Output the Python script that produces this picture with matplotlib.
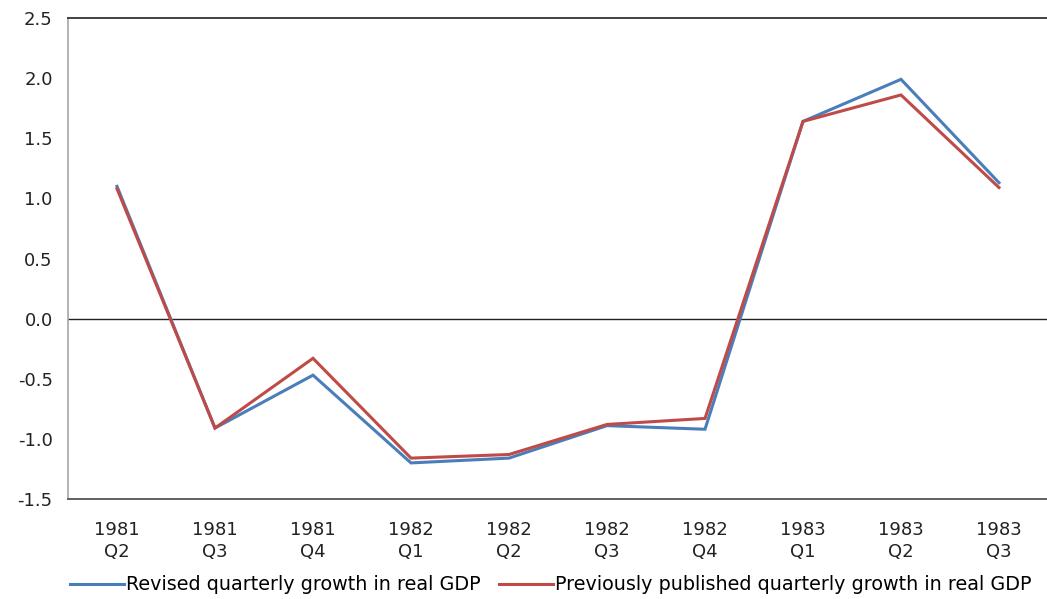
import matplotlib
matplotlib.use("Agg")
from matplotlib import pyplot as plt

quarters = ["1981\nQ2", "1981\nQ3", "1981\nQ4", "1982\nQ1", "1982\nQ2",
            "1982\nQ3", "1982\nQ4", "1983\nQ1", "1983\nQ2", "1983\nQ3"]
revised = [1.10, -0.91, -0.47, -1.20, -1.16, -0.89, -0.92, 1.64, 1.99, 1.13]
previous = [1.08, -0.91, -0.33, -1.16, -1.13, -0.88, -0.83, 1.64, 1.86, 1.09]
yticks = [-1.5, -1.0, -0.5, 0.0, 0.5, 1.0, 1.5, 2.0, 2.5]

plt.rcParams["font.family"] = ["DejaVu Sans"]
plt.rcParams["font.size"] = 13

W, H = 1047, 599
fig = plt.figure(figsize=(W / 100, H / 100), dpi=100)
ax = fig.add_axes([68 / W, 1 - 499 / H, (1048 - 68) / W, (499 - 18) / H])

x = list(range(len(quarters)))
ax.plot(x, revised, color="#4a7ebb", lw=2.2, solid_joinstyle="miter",
        label="Revised quarterly growth in real GDP", zorder=3)
ax.plot(x, previous, color="#be4b48", lw=2.2, solid_joinstyle="miter",
        label="Previously published quarterly growth in real GDP", zorder=4)
ax.axhline(0, color="#222222", lw=1.0, zorder=2)

ax.set_xlim(-0.5, len(quarters) - 0.5)
ax.set_ylim(-1.5, 2.5)
ax.set_yticks(yticks)
ax.set_yticklabels([f"{v:.1f}" for v in yticks], color="#222222")
ax.set_xticks(x)
ax.set_xticklabels(quarters, color="#222222", linespacing=1.25)
ax.tick_params(axis="both", length=0)
ax.tick_params(axis="y", pad=11)
ax.tick_params(axis="x", pad=16)

ax.spines["right"].set_visible(False)
ax.spines["top"].set_color("#333333")
ax.spines["top"].set_linewidth(1.3)
ax.spines["left"].set_color("#a6a6a6")
ax.spines["left"].set_linewidth(1.2)
ax.spines["bottom"].set_color("#555555")
ax.spines["bottom"].set_linewidth(1.3)

fig.legend(loc="center", bbox_to_anchor=(0.526, 1 - 585 / H), ncol=2,
           frameon=False, handlelength=2.8, handletextpad=0.1,
           columnspacing=1.0, borderaxespad=0, fontsize=13.8)

fig.savefig("out.png", dpi=100)
